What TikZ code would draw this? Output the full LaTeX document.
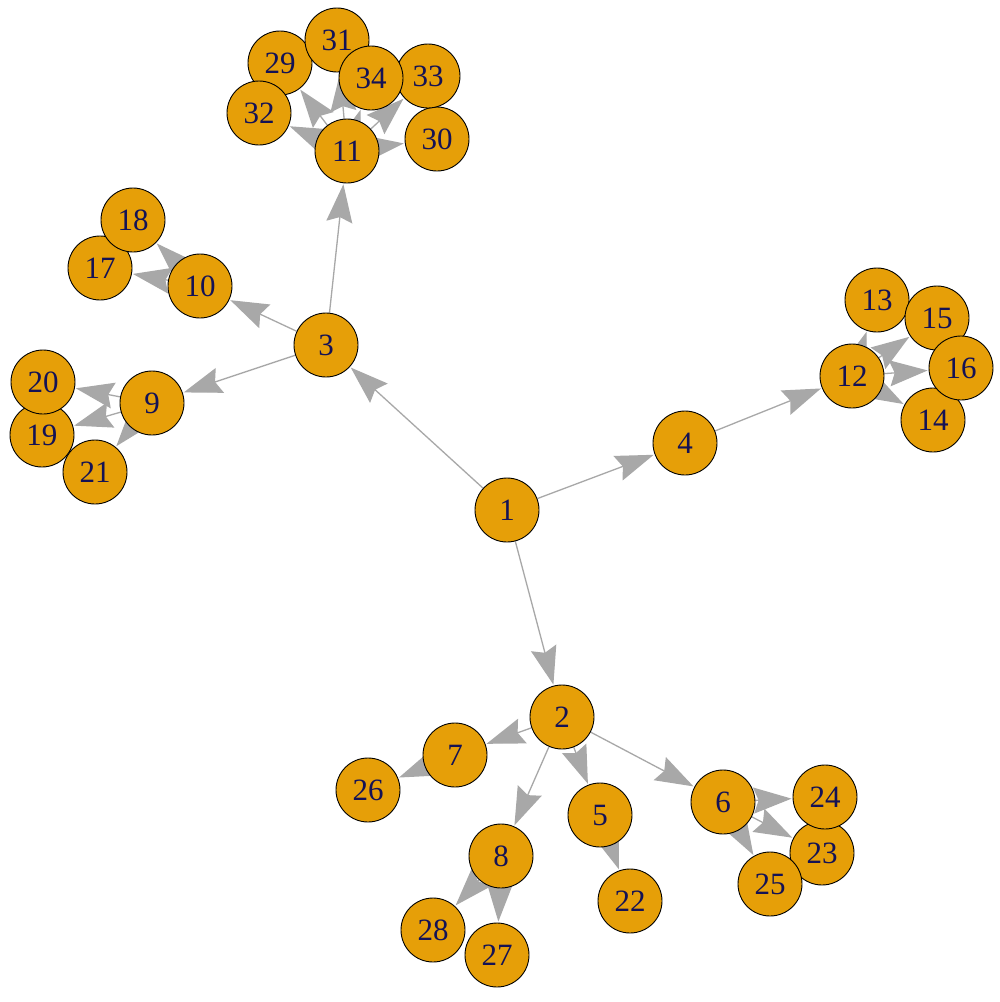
\documentclass[tikz,border=0pt]{standalone}
\usepackage{fontspec}
\setmainfont{Liberation Serif}
\usetikzlibrary{arrows.meta,backgrounds}
\definecolor{vfill}{RGB}{230,159,8}
\definecolor{vlabel}{RGB}{20,18,85}
\definecolor{egray}{RGB}{168,168,168}
\tikzset{
  vtx/.style={circle, draw=black, line width=0.9pt, fill=vfill, minimum size=64pt, inner sep=0pt,
    text=vlabel, font=\fontsize{31}{33}\selectfont},
  edge/.style={draw=egray, line width=1.3pt, -{Stealth[length=38pt,width=26pt,inset=5pt,fill=egray]}, shorten >=1pt}
}
\begin{document}
\begin{tikzpicture}[x=1pt,y=-1pt]
\useasboundingbox (0,0) rectangle (1000,1002);
\node[vtx] (n1) at (507,510) {1};
\node[vtx] (n2) at (562,717) {2};
\node[vtx] (n3) at (326,345) {3};
\node[vtx] (n4) at (685,443) {4};
\node[vtx] (n5) at (600,815) {5};
\node[vtx] (n6) at (723,802) {6};
\node[vtx] (n7) at (455,755) {7};
\node[vtx] (n8) at (501,856) {8};
\node[vtx] (n9) at (152,403) {9};
\node[vtx] (n10) at (200,286) {10};
\node[vtx] (n11) at (347,151) {11};
\node[vtx] (n12) at (852,376) {12};
\node[vtx] (n13) at (877,300) {13};
\node[vtx] (n14) at (933,420) {14};
\node[vtx] (n15) at (937,318) {15};
\node[vtx] (n16) at (961,368) {16};
\node[vtx] (n17) at (100,268) {17};
\node[vtx] (n18) at (133,220) {18};
\node[vtx] (n19) at (42,435) {19};
\node[vtx] (n20) at (43,382) {20};
\node[vtx] (n21) at (95,472) {21};
\node[vtx] (n22) at (630,901) {22};
\node[vtx] (n23) at (822,853) {23};
\node[vtx] (n24) at (825,797) {24};
\node[vtx] (n25) at (770,884) {25};
\node[vtx] (n26) at (368,790) {26};
\node[vtx] (n27) at (497,955) {27};
\node[vtx] (n28) at (433,930) {28};
\node[vtx] (n29) at (280,63) {29};
\node[vtx] (n30) at (437,139) {30};
\node[vtx] (n31) at (337,40) {31};
\node[vtx] (n32) at (259,113) {32};
\node[vtx] (n33) at (428,76) {33};
\node[vtx] (n34) at (371,78) {34};
\begin{scope}[on background layer]
\fill[white] (0,0) rectangle (1000,1002);
\draw[edge] (n1) -- (n2);
\draw[edge] (n1) -- (n3);
\draw[edge] (n1) -- (n4);
\draw[edge] (n2) -- (n5);
\draw[edge] (n2) -- (n6);
\draw[edge] (n2) -- (n7);
\draw[edge] (n2) -- (n8);
\draw[edge] (n3) -- (n9);
\draw[edge] (n3) -- (n10);
\draw[edge] (n3) -- (n11);
\draw[edge] (n4) -- (n12);
\draw[edge] (n5) -- (n22);
\draw[edge] (n6) -- (n23);
\draw[edge] (n6) -- (n24);
\draw[edge] (n6) -- (n25);
\draw[edge] (n7) -- (n26);
\draw[edge] (n8) -- (n27);
\draw[edge] (n8) -- (n28);
\draw[edge] (n9) -- (n19);
\draw[edge] (n9) -- (n20);
\draw[edge] (n9) -- (n21);
\draw[edge] (n10) -- (n17);
\draw[edge] (n10) -- (n18);
\draw[edge] (n11) -- (n29);
\draw[edge] (n11) -- (n30);
\draw[edge] (n11) -- (n31);
\draw[edge] (n11) -- (n32);
\draw[edge] (n11) -- (n33);
\draw[edge] (n11) -- (n34);
\draw[edge] (n12) -- (n13);
\draw[edge] (n12) -- (n14);
\draw[edge] (n12) -- (n15);
\draw[edge] (n12) -- (n16);
\end{scope}
\end{tikzpicture}
\end{document}
